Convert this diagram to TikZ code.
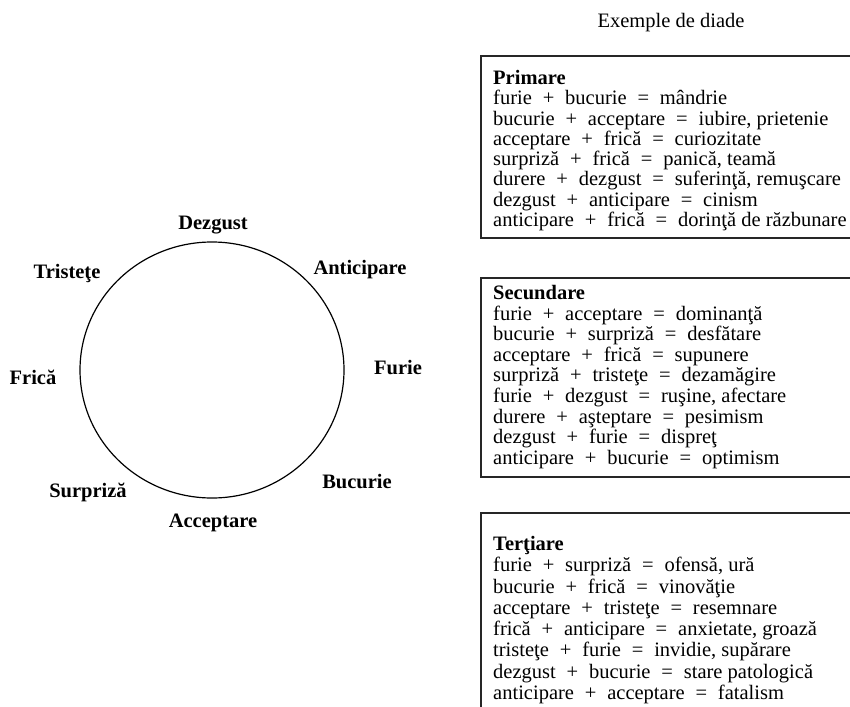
\documentclass[tikz,border=0pt]{standalone}
\usepackage{fontspec}
\setmainfont{Liberation Serif}
\newcommand{\diadsize}{\fontsize{20.5}{21.5}\selectfont}
\tikzstyle{emo}=[font=\diadsize\bfseries,inner sep=0]
\tikzstyle{frame}=[line width=1.6pt,draw=black!85]
\tikzset{dyad/.style={anchor=north west,align=left,inner sep=0,
	font=\fontsize{20.5}{#1}\selectfont}}
\newcommand{\plus}{\hskip.53em+\hskip.53em}
\newcommand{\eq}{\hskip.53em=\hskip.53em}

\begin{document}
\setlength{\lineskiplimit}{-50pt}
\begin{tikzpicture}[x=1pt,y=-1pt,font=\diadsize]
\clip (0,0) rectangle (850,706);

\node (title) at (671,23) {Exemple de diade};

\draw[line width=1.2pt] (212,370) ellipse [x radius=132,y radius=128];
\foreach \x/\y/\n/\t in {213/225/dezgust/Dezgust, 360/270/anticipare/Anticipare,
	398/368/furie/Furie, 357/482/bucurie/Bucurie, 213/523/acceptare/Acceptare,
	88/492/surpriza/Surpriză, 33/377/frica/Frică, 67/273/tristete/Tristeţe}{
	\node[emo] (\n) at (\x,\y) {\t};
	}

\draw[frame] (481,56) rectangle (870,238);
\draw[frame] (481,278) rectangle (870,477);
\draw[frame] (481,513) rectangle (870,720);

\node[dyad=20.3pt] (primare) at (493,70) {\textbf{Primare}\\
furie\plus bucurie\eq mândrie\\
bucurie\plus acceptare\eq iubire, prietenie\\
acceptare\plus frică\eq curiozitate\\
surpriză\plus frică\eq panică, teamă\\
durere\plus dezgust\eq suferinţă, remuşcare\\
dezgust\plus anticipare\eq cinism\\
anticipare\plus frică\eq dorinţă de răzbunare};

\node[dyad=20.6pt] (secundare) at (493,285) {\textbf{Secundare}\\
furie\plus acceptare\eq dominanţă\\
bucurie\plus surpriză\eq desfătare\\
acceptare\plus frică\eq supunere\\
surpriză\plus tristeţe\eq dezamăgire\\
furie\plus dezgust\eq ruşine, afectare\\
durere\plus aşteptare\eq pesimism\\
dezgust\plus furie\eq dispreţ\\
anticipare\plus bucurie\eq optimism};

\node[dyad=21.3pt] (tertiare) at (493,536) {\textbf{Terţiare}\\
furie\plus surpriză\eq ofensă, ură\\
bucurie\plus frică\eq vinovăţie\\
acceptare\plus tristeţe\eq resemnare\\
frică\plus anticipare\eq anxietate, groază\\
tristeţe\plus furie\eq invidie, supărare\\
dezgust\plus bucurie\eq stare patologică\\
anticipare\plus acceptare\eq fatalism};
\end{tikzpicture}
\end{document}
